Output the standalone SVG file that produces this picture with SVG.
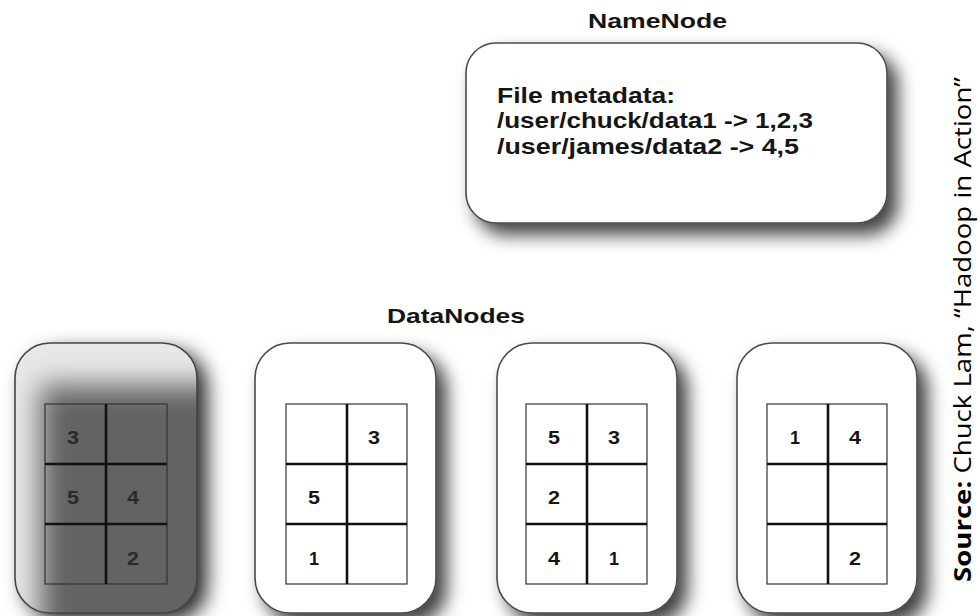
<svg xmlns="http://www.w3.org/2000/svg" width="979" height="616" viewBox="0 0 979 616">
<style>
.title{font-family:"Liberation Sans",Arial,sans-serif;font-weight:bold;font-size:21px;fill:#151515}
.meta{font-family:"Liberation Sans",Arial,sans-serif;font-weight:bold;font-size:22px;fill:#151515}
.num{font-family:"Liberation Sans",Arial,sans-serif;font-weight:bold;font-size:18px;fill:#151515;text-anchor:middle}
.box{fill:#fff;stroke:#4a4a4a;stroke-width:1.6}
.grid{fill:none;stroke:#333;stroke-width:1.2}
.gl{stroke:#111;stroke-width:2.6}
.src{font-family:"Open Sans","Noto Sans",sans-serif;font-size:24px;fill:#000}
</style>
<defs>
<filter id="sh" x="-20%" y="-20%" width="150%" height="150%">
<feDropShadow dx="10" dy="11" stdDeviation="9" flood-color="#000" flood-opacity="0.75"/>
</filter>
<filter id="sh2" x="-30%" y="-20%" width="170%" height="150%">
<feDropShadow dx="10" dy="8" stdDeviation="10" flood-color="#000" flood-opacity="0.85"/>
</filter>
<filter id="blur" x="-50%" y="-50%" width="200%" height="200%">
<feGaussianBlur stdDeviation="14"/>
</filter>
<clipPath id="c1"><rect x="15" y="343" width="182" height="270" rx="35"/></clipPath>
</defs>
<rect width="979" height="616" fill="#fff"/>

<g id="namenode">
<text class="title" x="588" y="28" textLength="139" lengthAdjust="spacingAndGlyphs">NameNode</text>
<rect class="box" x="466" y="43" width="421" height="180" rx="30" filter="url(#sh)"/>
<text class="meta" x="497" y="103" textLength="178" lengthAdjust="spacingAndGlyphs">File metadata:</text>
<text class="meta" x="497" y="128" textLength="316" lengthAdjust="spacingAndGlyphs">/user/chuck/data1 -&gt; 1,2,3</text>
<text class="meta" x="497" y="154" textLength="302" lengthAdjust="spacingAndGlyphs">/user/james/data2 -&gt; 4,5</text>
</g>

<g id="datanodes-label">
<text class="title" x="387" y="323" textLength="138" lengthAdjust="spacingAndGlyphs">DataNodes</text>
</g>

<g id="datanode1">
<rect x="15" y="343" width="182" height="270" rx="35" fill="#666" filter="url(#sh2)"/>
<g clip-path="url(#c1)">
<rect x="15" y="343" width="182" height="270" fill="#e8e8e8"/>
<rect x="40" y="385" width="190" height="260" fill="#636363" filter="url(#blur)"/>
</g>
<rect x="15" y="343" width="182" height="270" rx="35" fill="none" stroke="#444" stroke-width="1.6"/>
<rect class="grid" x="45" y="404" width="122" height="180"/>
<line class="gl" x1="106" y1="404" x2="106" y2="584"/>
<line class="gl" x1="45" y1="464" x2="167" y2="464"/>
<line class="gl" x1="45" y1="524" x2="167" y2="524"/>
<text class="num" x="73" y="444" textLength="12" lengthAdjust="spacingAndGlyphs" style="fill:#2a2a2a">3</text>
<text class="num" x="73" y="504" textLength="12" lengthAdjust="spacingAndGlyphs" style="fill:#2a2a2a">5</text>
<text class="num" x="133" y="504" textLength="12" lengthAdjust="spacingAndGlyphs" style="fill:#2a2a2a">4</text>
<text class="num" x="133" y="565" textLength="12" lengthAdjust="spacingAndGlyphs" style="fill:#2a2a2a">2</text>
</g>

<g id="datanode2">
<rect class="box" x="255" y="343" width="181" height="270" rx="35" filter="url(#sh)"/>
<rect class="grid" x="286" y="404" width="121" height="180"/>
<line class="gl" x1="347" y1="404" x2="347" y2="584"/>
<line class="gl" x1="286" y1="464" x2="407" y2="464"/>
<line class="gl" x1="286" y1="524" x2="407" y2="524"/>
<text class="num" x="374" y="444" textLength="12" lengthAdjust="spacingAndGlyphs">3</text>
<text class="num" x="314" y="504" textLength="12" lengthAdjust="spacingAndGlyphs">5</text>
<text class="num" x="314" y="565" textLength="10" lengthAdjust="spacingAndGlyphs">1</text>
</g>

<g id="datanode3">
<rect class="box" x="497" y="343" width="180" height="270" rx="35" filter="url(#sh)"/>
<rect class="grid" x="526" y="404" width="121" height="180"/>
<line class="gl" x1="587" y1="404" x2="587" y2="584"/>
<line class="gl" x1="526" y1="464" x2="647" y2="464"/>
<line class="gl" x1="526" y1="524" x2="647" y2="524"/>
<text class="num" x="554" y="444" textLength="12" lengthAdjust="spacingAndGlyphs">5</text>
<text class="num" x="614" y="444" textLength="12" lengthAdjust="spacingAndGlyphs">3</text>
<text class="num" x="554" y="504" textLength="12" lengthAdjust="spacingAndGlyphs">2</text>
<text class="num" x="554" y="565" textLength="12" lengthAdjust="spacingAndGlyphs">4</text>
<text class="num" x="614" y="565" textLength="10" lengthAdjust="spacingAndGlyphs">1</text>
</g>

<g id="datanode4">
<rect class="box" x="737" y="343" width="180" height="270" rx="35" filter="url(#sh)"/>
<rect class="grid" x="767" y="404" width="120" height="180"/>
<line class="gl" x1="828" y1="404" x2="828" y2="584"/>
<line class="gl" x1="767" y1="464" x2="887" y2="464"/>
<line class="gl" x1="767" y1="524" x2="887" y2="524"/>
<text class="num" x="795" y="444" textLength="10" lengthAdjust="spacingAndGlyphs">1</text>
<text class="num" x="855" y="444" textLength="12" lengthAdjust="spacingAndGlyphs">4</text>
<text class="num" x="855" y="565" textLength="12" lengthAdjust="spacingAndGlyphs">2</text>
</g>

<g id="connectors"></g>

<g id="source">
<text class="src" transform="translate(971,582) rotate(-90)" textLength="505" lengthAdjust="spacingAndGlyphs"><tspan font-weight="bold">Source:</tspan> Chuck Lam, “Hadoop in Action”</text>
</g>
</svg>
